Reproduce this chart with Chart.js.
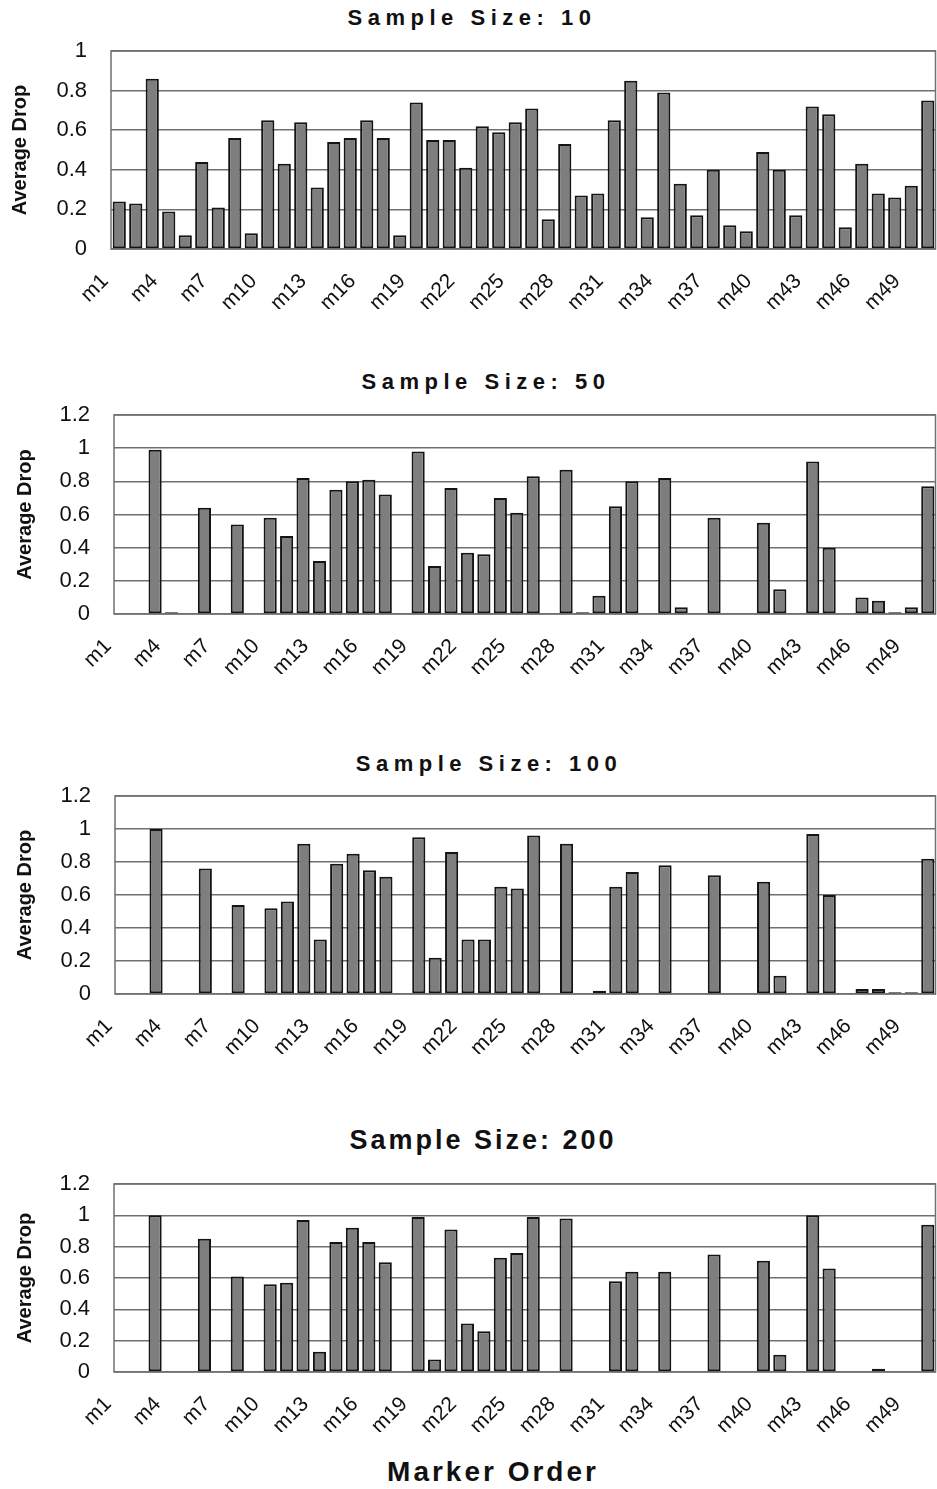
<!DOCTYPE html>
<html>
<head>
<meta charset="utf-8">
<script src="https://cdn.jsdelivr.net/npm/chart.js@4.4.1/dist/chart.umd.min.js"></script>
<style>
  html, body { margin: 0; padding: 0; background: #fff; overflow: hidden; }
  body { width: 937px; height: 1489px; position: relative; font-family: "Liberation Sans", Arial, sans-serif; }
  .panel { position: absolute; left: 0; width: 937px; }
  .ttl { position: absolute; font-weight: bold; line-height: 1; white-space: nowrap; color: #111; transform: translateX(-50%); }
</style>
</head>
<body>

<div class="ttl" style="left:472px; top:7px; font-size:22px; letter-spacing:5.5px;">Sample Size: 10</div>
<div class="panel" style="top:36px; height:273px;"><canvas id="c10"></canvas></div>

<div class="ttl" style="left:486px; top:371px; font-size:22px; letter-spacing:5.5px;">Sample Size: 50</div>
<div class="panel" style="top:400px; height:274px;"><canvas id="c50"></canvas></div>

<div class="ttl" style="left:489px; top:753px; font-size:22px; letter-spacing:5.5px;">Sample Size: 100</div>
<div class="panel" style="top:781px; height:273px;"><canvas id="c100"></canvas></div>

<div class="ttl" style="left:483px; top:1127px; font-size:27px; letter-spacing:3px;">Sample Size: 200</div>
<div class="panel" style="top:1169px; height:263px;"><canvas id="c200"></canvas></div>

<div class="ttl" style="left:493px; top:1458px; font-size:28px; letter-spacing:3px;">Marker Order</div>

<script>
// markers m1..m50
const markers = ['m1','m2','m3','m4','m5','m6','m7','m8','m9','m10',
  'm11','m12','m13','m14','m15','m16','m17','m18','m19','m20',
  'm21','m22','m23','m24','m25','m26','m27','m28','m29','m30',
  'm31','m32','m33','m34','m35','m36','m37','m38','m39','m40',
  'm41','m42','m43','m44','m45','m46','m47','m48','m49','m50'];

// average drop per marker, one array per sample size
const size10 = [0.24,0.23,0.86,0.19,0.07,0.44,0.21,0.56,0.08,0.65,
  0.43,0.64,0.31,0.54,0.56,0.65,0.56,0.07,0.74,0.55,
  0.55,0.41,0.62,0.59,0.64,0.71,0.15,0.53,0.27,0.28,
  0.65,0.85,0.16,0.79,0.33,0.17,0.40,0.12,0.09,0.49,
  0.40,0.17,0.72,0.68,0.11,0.43,0.28,0.26,0.32,0.75];

const size50 = [0,0,0.99,0.01,0,0.64,0,0.54,0,0.58,
  0.47,0.82,0.32,0.75,0.80,0.81,0.72,0,0.98,0.29,
  0.76,0.37,0.36,0.70,0.61,0.83,0,0.87,0.01,0.11,
  0.65,0.80,0,0.82,0.04,0,0.58,0,0,0.55,
  0.15,0,0.92,0.40,0,0.10,0.08,0.01,0.04,0.77];

const size100 = [0,0,1.0,0,0,0.76,0,0.54,0,0.52,
  0.56,0.91,0.33,0.79,0.85,0.75,0.71,0,0.95,0.22,
  0.86,0.33,0.33,0.65,0.64,0.96,0,0.91,0,0.02,
  0.65,0.74,0,0.78,0,0,0.72,0,0,0.68,
  0.11,0,0.97,0.60,0,0.03,0.03,0.01,0.01,0.82];

const size200 = [0,0,1.0,0,0,0.85,0,0.61,0,0.56,
  0.57,0.97,0.13,0.83,0.92,0.83,0.70,0,0.99,0.08,
  0.91,0.31,0.26,0.73,0.76,0.99,0,0.98,0,0,
  0.58,0.64,0,0.64,0,0,0.75,0,0,0.71,
  0.11,0,1.0,0.66,0,0,0.02,0,0,0.94];

const yTicks10 = [0, 0.2, 0.4, 0.6, 0.8, 1];
const yTicksBig = [0, 0.2, 0.4, 0.6, 0.8, 1, 1.2];

const gridColor = '#707070';
const fontFam = "'Liberation Sans', Arial, sans-serif";

// frame round the plot area (top and right sides are missing otherwise)
const frame = {
  id: 'frame',
  beforeDatasetsDraw(chart) {
    const {ctx, chartArea: a} = chart;
    ctx.save();
    ctx.strokeStyle = gridColor;
    ctx.lineWidth = 1.5;
    ctx.strokeRect(a.left, a.top, a.right - a.left - 0.5, a.bottom - a.top);
    ctx.restore();
  }
};

function drawPanel(id, values, yTicks, axisLeft, titlePad) {
  const yMax = yTicks[yTicks.length - 1];
  new Chart(document.getElementById(id), {
    type: 'bar',
    data: {
      labels: markers,
      datasets: [{
        data: values,
        backgroundColor: '#7e7e7e',
        borderColor: '#141414',
        borderWidth: 2,
        borderSkipped: false,
        categoryPercentage: 1,
        barPercentage: 0.8
      }]
    },
    options: {
      responsive: true,
      maintainAspectRatio: false,
      animation: false,
      layout: { padding: { top: 15, right: 1, left: 0, bottom: 0 } },
      plugins: { legend: { display: false }, tooltip: { enabled: false } },
      scales: {
        x: {
          grid: { display: false },
          border: { display: false },
          ticks: {
            autoSkip: false,
            maxRotation: 45,
            minRotation: 45,
            labelOffset: -14,
            padding: 12,
            color: '#111',
            font: { family: fontFam, size: 21 },
            callback: (v, i) => (i % 3 === 0 ? markers[i] : '')
          },
          afterFit: (s) => { s.height = 60; s.paddingLeft = 0; s.paddingRight = 0; }
        },
        y: {
          min: 0,
          max: yMax,
          afterBuildTicks: (s) => { s.ticks = yTicks.map(v => ({ value: v })); },
          grid: { color: gridColor, lineWidth: 1.5, drawTicks: false },
          border: { display: false },
          ticks: {
            autoSkip: false,
            padding: 24,
            color: '#111',
            font: { family: fontFam, size: 22 },
            callback: (v) => String(+v.toFixed(1))
          },
          title: {
            display: true,
            text: 'Average Drop',
            color: '#111',
            padding: { top: titlePad, bottom: 0 },
            font: { family: fontFam, size: 20, weight: 'bold' }
          },
          afterFit: (s) => { s.width = axisLeft; s.paddingTop = 0; s.paddingBottom = 0; }
        }
      }
    },
    plugins: [frame]
  });
}

drawPanel('c10', size10, yTicks10, 111, 8);
drawPanel('c50', size50, yTicksBig, 114, 13);
drawPanel('c100', size100, yTicksBig, 115, 13);
drawPanel('c200', size200, yTicksBig, 114, 13);
</script>
</body>
</html>
